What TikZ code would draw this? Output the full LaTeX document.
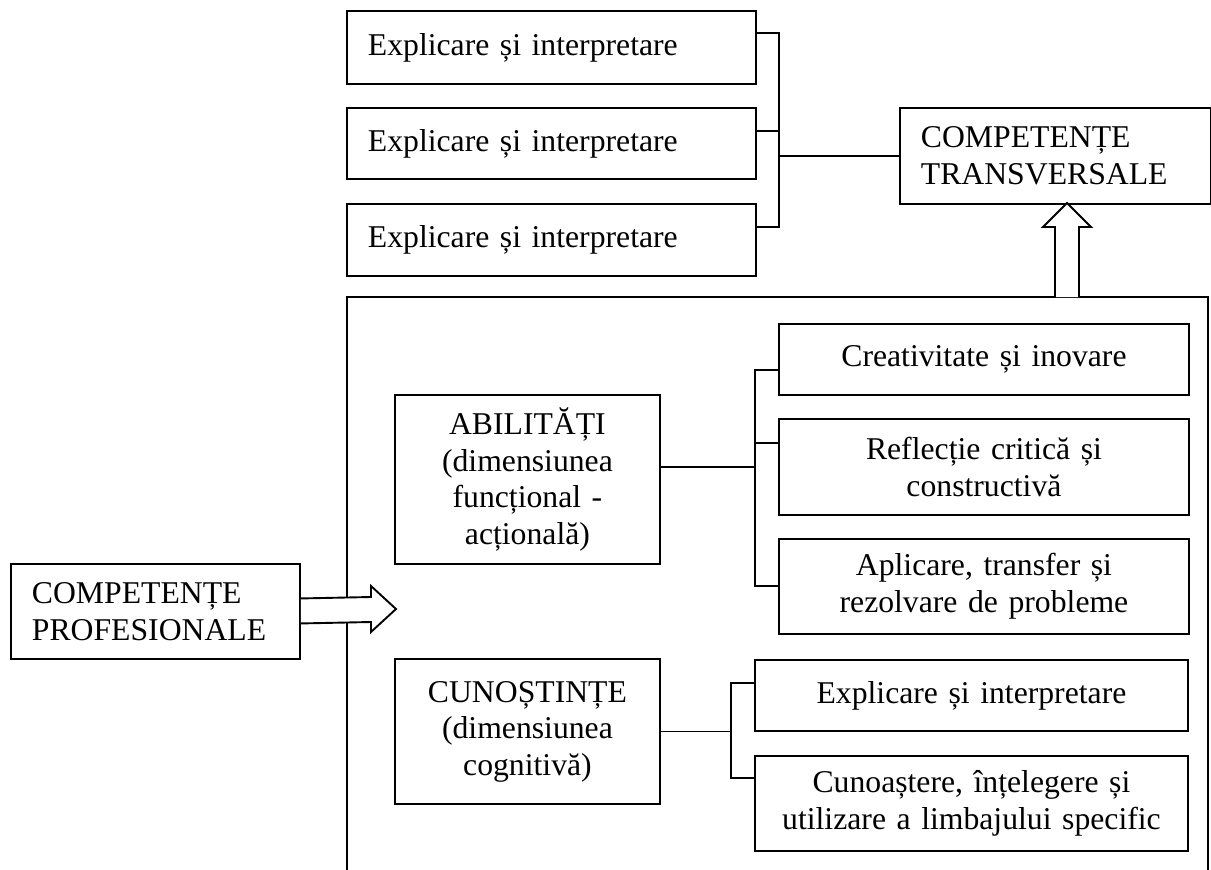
\documentclass[tikz,border=0pt]{standalone}
\usepackage{fontspec}
\setmainfont{Liberation Serif}
\begin{document}
\begin{tikzpicture}[x=1pt,y=-1pt,
  every node/.style={font=\fontsize{31.7}{36.5}\selectfont},
  bx/.style={draw, line width=1.9pt, anchor=north west, inner xsep=21pt, inner ysep=0pt},
  lnk/.style={line width=1.9pt},
  blockarrow/.style={draw, fill=white, line width=1.9pt, line join=miter}]
\useasboundingbox (0,0) rectangle (1211,870);

% upper group
\node[bx, align=left, text width=367pt, minimum height=73pt] (t1) at (346,10) {Explicare și interpretare};
\node[bx, align=left, text width=367pt, minimum height=71pt] (t2) at (346,107) {Explicare și interpretare};
\node[bx, align=left, text width=367pt, minimum height=72pt] (t3) at (346,203) {Explicare și interpretare};
\node[bx, align=left, text width=269pt, minimum height=96pt] (trans) at (899,107) {COMPETENȚE\\TRANSVERSALE};

% left box
\node[bx, align=left, text width=247pt, minimum height=95pt] (prof) at (10,563) {COMPETENȚE\\PROFESIONALE};

% frame
\draw[lnk] (347,870) -- (347,297) -- (1208,297) -- (1208,870);

% inner boxes
\node[bx, align=center, text width=223pt, minimum height=169pt] (abil) at (394,394) {ABILITĂȚI\\(dimensiunea\\funcțional -\\acțională)};
\node[bx, align=center, text width=223pt, minimum height=145pt] (cun) at (394,658) {CUNOȘTINȚE\\(dimensiunea\\cognitivă)};

\node[bx, align=center, text width=368pt, minimum height=71pt] (cr) at (778,323) {Creativitate și inovare};
\node[bx, align=center, text width=368pt, minimum height=96pt] (rf) at (778,418) {Reflecție critică și\\constructivă};
\node[bx, align=center, text width=368pt, minimum height=95pt] (ap) at (778,538) {Aplicare, transfer și\\rezolvare de probleme};
\node[bx, align=center, text width=391pt, minimum height=71pt] (ex) at (754,659) {Explicare și interpretare};
\node[bx, align=center, text width=391pt, minimum height=95pt] (cu) at (754,755) {Cunoaștere, înțelegere și\\utilizare a limbajului specific};

% bus positions
\coordinate (tb) at (779,0);
\coordinate (ab) at (755,0);
\coordinate (cb) at (731,0);

% upper bracket
\draw[lnk] ([yshift=-23pt]t1.north east) -- ([yshift=-23pt]t1.north east -| tb)
  -- ([yshift=-24pt]t3.north east -| tb) -- ([yshift=-24pt]t3.north east);
\draw[lnk] ([yshift=-24pt]t2.north east) -- ([yshift=-24pt]t2.north east -| tb);
\draw[lnk] (trans.west) -- (trans.west -| tb);

% abilities bracket
\draw[lnk] ([yshift=-47pt]cr.north west) -- ([yshift=-47pt]cr.north west -| ab)
  -- ([yshift=-48pt]ap.north west -| ab) -- ([yshift=-48pt]ap.north west);
\draw[lnk] ([yshift=-25pt]rf.north west) -- ([yshift=-25pt]rf.north west -| ab);
\draw[lnk] ([yshift=-73pt]abil.north east) -- ([yshift=-73pt]abil.north east -| ab);

% knowledge bracket
\draw[lnk] ([yshift=-24pt]ex.north west) -- ([yshift=-24pt]ex.north west -| cb)
  -- ([yshift=-23pt]cu.north west -| cb) -- ([yshift=-23pt]cu.north west);
\draw[lnk] (cun.east) -- (cun.east -| cb);

% block arrows
\coordinate (upTip) at (1067,203);
\draw[blockarrow] (1055,297) -- (1055,227) -- (1043,227) -- (upTip) -- (1091,227) -- (1079,227) -- (1079,297);
\draw[blockarrow] ([yshift=13pt]prof.east) -- (371,597) -- (371,586) -- (396,609) -- (371,632) -- (371,622) -- ([yshift=-12pt]prof.east);
\end{tikzpicture}
\end{document}
